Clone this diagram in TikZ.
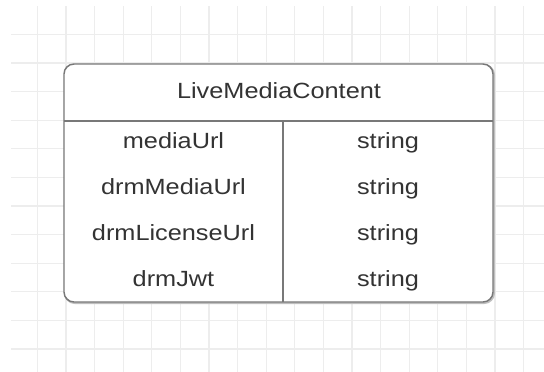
\documentclass[tikz,border=0pt]{standalone}
\usepackage{fontspec}
\setmainfont{Liberation Sans}[FakeStretch=1.15]
\usepackage{xcolor}
\usepackage{tikz}
\usetikzlibrary{positioning, calc}

\definecolor{gridgray}{HTML}{EDEDED}
\definecolor{boxgray}{HTML}{787878}
\definecolor{textgray}{HTML}{333333}

\begin{document}
\begin{tikzpicture}[x=0.75pt, y=-0.75pt]
        \tikzstyle{gridline} = [draw=gridgray, line width=0.9pt]
        \tikzstyle{tablebox} = [draw=boxgray, line width=1.1pt, rounded corners=7.5pt, fill=white]
        \tikzstyle{shadow} = [draw=black!25, line width=1.6pt, rounded corners=7.5pt]
        \tikzstyle{sep} = [draw=boxgray, line width=1.1pt]
        \tikzstyle{cell} = [anchor=base, text=textgray, inner sep=0pt, font=\fontsize{16.5}{18}\selectfont]

        \useasboundingbox (0,0) rectangle (544,372);

        % --- grid ---
        \foreach \gx in {0,...,17}
            \draw [gridline] (37.3+28.6*\gx, 6) -- (37.3+28.6*\gx, 372);
        \foreach \gy in {0,...,11}
            \draw [gridline] (11, 34.3+28.6*\gy) -- (544, 34.3+28.6*\gy);

        % --- table frame ---
        \coordinate (tl) at (64,64);
        \coordinate (br) at (493,302);
        \draw [shadow] ($(tl)+(1,1)$) rectangle ($(br)+(1,1)$);
        \draw [tablebox] (tl) rectangle (br);

        \coordinate (head) at (64,121);
        \coordinate (div) at (283,121);
        \draw [sep] (head) -- (head -| br);
        \draw [sep] (div) -- (div |- br);

        % --- header ---
        \node [cell] (title) at (279,98.3) {LiveMediaContent};

        % --- fields ---
        \node [cell] (f1) at (173.5,148.3) {mediaUrl};
        \node [cell] (f2) at (173.5,194.6) {drmMediaUrl};
        \node [cell] (f3) at (173.5,240.5) {drmLicenseUrl};
        \node [cell] (f4) at (173.5,286.2) {drmJwt};

        \node [cell] (t1) at (388,148.3) {string};
        \node [cell] (t2) at (388,194.6) {string};
        \node [cell] (t3) at (388,240.5) {string};
        \node [cell] (t4) at (388,286.2) {string};

\end{tikzpicture}
\end{document}
